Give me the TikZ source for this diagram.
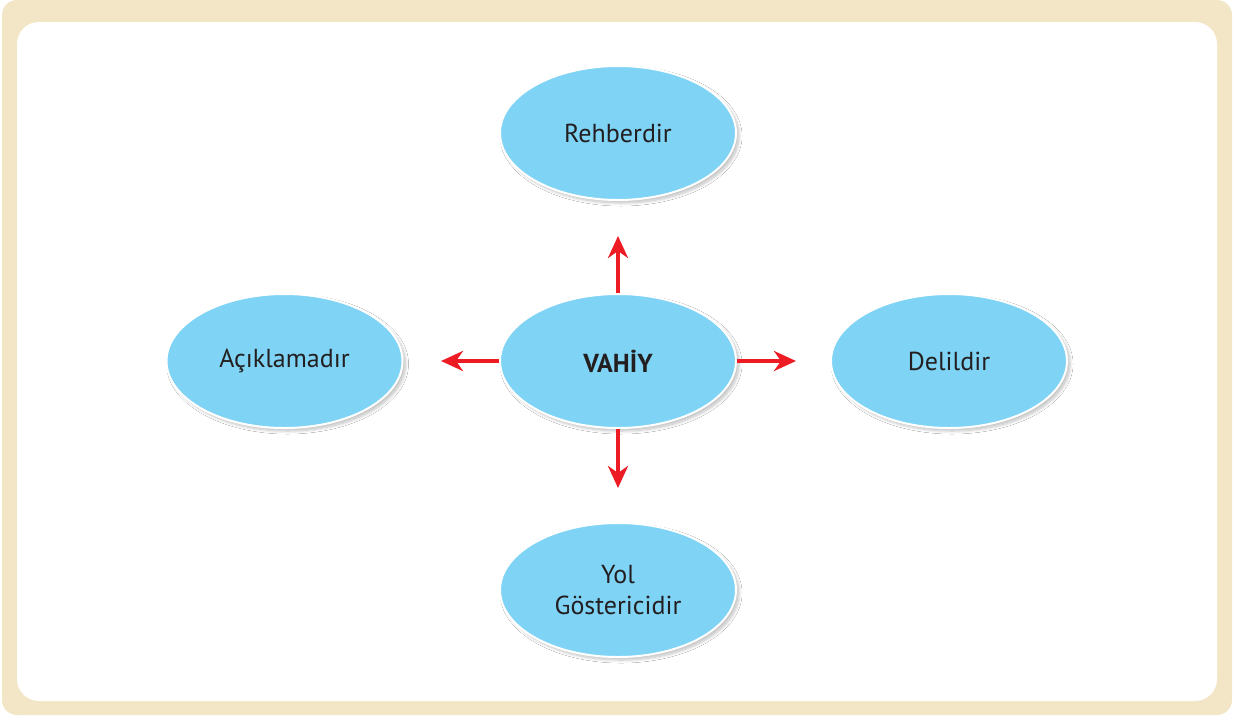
\documentclass[tikz,border=0pt]{standalone}
\usepackage{fontspec}
\setmainfont{PT Sans}
\usetikzlibrary{shapes.geometric,arrows.meta,shadows.blur}
\definecolor{framebeige}{HTML}{F3E6C6}
\definecolor{bubble}{HTML}{7FD3F5}
\definecolor{arrowred}{HTML}{ED1C24}
\definecolor{txt}{HTML}{231F20}
\tikzset{
  bub/.style={ellipse, fill=bubble, draw=white, line width=2pt,
    minimum width=236pt, minimum height=134pt, inner sep=0pt,
    text=txt, font=\fontsize{26}{31}\selectfont, align=center,
    blur shadow={shadow xshift=3pt, shadow yshift=-3pt, shadow blur steps=10, shadow blur radius=3pt, shadow opacity=25}},
  redarrow/.style={draw=arrowred, line width=4.2pt,
    -{Stealth[length=22pt,width=20pt,inset=7pt]}}
}
\begin{document}
\begin{tikzpicture}[x=1pt,y=-1pt]
\useasboundingbox (0,0) rectangle (1239,718);
\fill[framebeige, rounded corners=15pt] (2,0) rectangle (1232,715);
\fill[white, rounded corners=22pt] (17,22) rectangle (1217,701);
\node[bub] (top) at (618,133) {Rehberdir};
\node[bub] (left) at (284.5,361) {Açıklamadır};
\node[bub] (right) at (949,361) {Delildir};
\node[bub] (bottom) at (618,590) {Yol\\Göstericidir};
\node[bub, font=\fontsize{26}{31}\selectfont\bfseries] (c) at (618,361) {VAHİY};
\coordinate (tu) at (618,236);
\coordinate (tl) at (441,361);
\coordinate (tr) at (796,361);
\coordinate (td) at (618,488);
\draw[redarrow] (c.north) -- (tu);
\draw[redarrow] (c.west) -- (tl);
\draw[redarrow] (c.east) -- (tr);
\draw[redarrow] (c.south) -- (td);
\end{tikzpicture}
\end{document}
